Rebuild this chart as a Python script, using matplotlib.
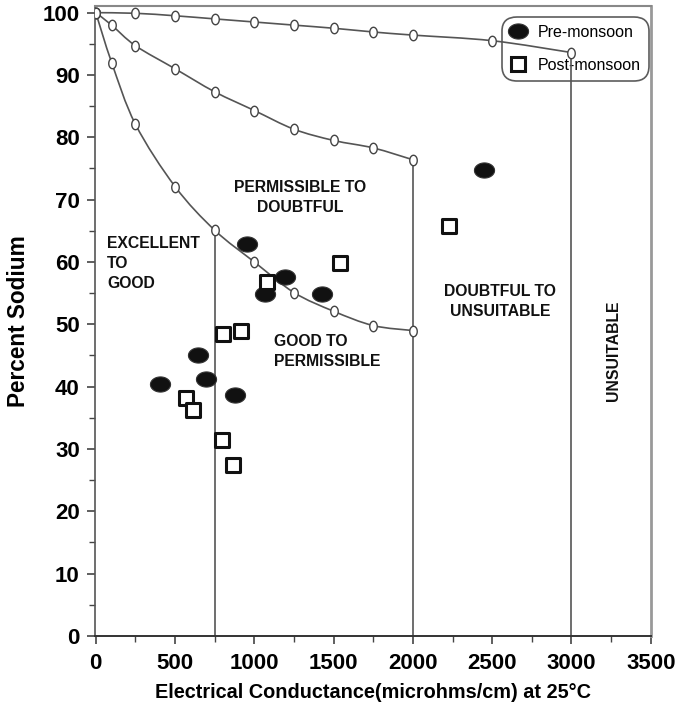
import numpy as np
import matplotlib
matplotlib.use("Agg")
import matplotlib.pyplot as plt
from matplotlib.path import Path
from matplotlib.patches import PathPatch
from matplotlib.lines import Line2D

plt.rcParams['font.family'] = ['Liberation Sans', 'DejaVu Sans']

# ---- Wilcox boundary curves ----
curve_top_x = [0, 250, 500, 750, 1000, 1250, 1500, 1750, 2000, 2500, 3000]
curve_top_y = [100, 99.9, 99.5, 99.0, 98.5, 98.0, 97.5, 96.9, 96.4, 95.5, 93.6]
curve_mid_x = [0, 100, 250, 500, 750, 1000, 1250, 1500, 1750, 2000]
curve_mid_y = [100, 98.0, 94.7, 91.0, 87.3, 84.3, 81.3, 79.5, 78.3, 76.4]
curve_bot_x = [0, 100, 250, 500, 750, 1000, 1250, 1500, 1750, 2000]
curve_bot_y = [100, 92.0, 82.1, 72.1, 65.1, 60.0, 55.1, 52.1, 49.8, 49.0]

# vertical class boundaries: (x, top y)
vlines_x = [750, 2000, 3000]
vlines_top = [65.1, 76.4, 93.6]

# ---- samples ----
pre_ec = [953, 1068, 1194, 1425, 644, 402, 696, 875, 2448]
pre_na = [62.9, 54.9, 57.6, 54.8, 45.1, 40.4, 41.3, 38.7, 74.8]
post_ec = [1079, 801, 917, 1540, 568, 616, 795, 864, 2227]
post_na = [56.8, 48.5, 49.0, 59.9, 38.2, 36.3, 31.4, 27.4, 65.8]

x_ticks = [0, 500, 1000, 1500, 2000, 2500, 3000, 3500]
y_ticks = [0, 10, 20, 30, 40, 50, 60, 70, 80, 90, 100]

fig = plt.figure(figsize=(6.8, 7.13), dpi=100)
ax = fig.add_axes([0.1397, 0.108, 0.8173, 0.8836])
ax.set_xlim(-5, 3500)
ax.set_ylim(0, 101.07)

# markers
t = np.linspace(0, 2 * np.pi, 60)
ell_wide = Path(np.column_stack([1.33 * np.cos(t), np.sin(t)]), closed=True)
ell_tall = Path(np.column_stack([0.72 * np.cos(t), np.sin(t)]), closed=True)

line_col = '#555555'


def smooth_path(xs, ys):
    """Catmull-Rom style cubic Bezier path through the given points (display space)."""
    pts = ax.transData.transform(np.column_stack([xs, ys]))
    n = len(pts)
    verts = [pts[0]]
    codes = [Path.MOVETO]
    for i in range(n - 1):
        p0 = pts[i - 1] if i > 0 else pts[i]
        p1 = pts[i]
        p2 = pts[i + 1]
        p3 = pts[i + 2] if i + 2 < n else pts[i + 1]
        c1 = p1 + (p2 - p0) / 6.0
        c2 = p2 - (p3 - p1) / 6.0
        verts += [c1, c2, p2]
        codes += [Path.CURVE4] * 3
    dverts = ax.transData.inverted().transform(np.array(verts))
    return Path(dverts, codes)


for cx, cy in [(curve_top_x, curve_top_y), (curve_mid_x, curve_mid_y), (curve_bot_x, curve_bot_y)]:
    ax.add_patch(PathPatch(smooth_path(cx, cy), facecolor='none', edgecolor=line_col,
                           lw=1.2, zorder=3))
    ax.plot(cx, cy, ls='none', marker=ell_tall, ms=7.5,
            mfc='white', mec='#444444', mew=1.0, zorder=3)

for vx, vt in zip(vlines_x, vlines_top):
    ax.plot([vx, vx], [0, vt], color=line_col, lw=1.2, zorder=2)

ax.scatter(pre_ec, pre_na, marker=ell_wide, s=14.5 ** 2, facecolor='#111111',
           edgecolor='#333333', linewidths=0.8, zorder=4)
ax.scatter(post_ec, post_na, marker='s', s=9.5 ** 2, facecolor='white',
           edgecolor='#111111', linewidths=2.2, zorder=5)

# annotations
kw = dict(fontsize=11.3, fontweight='bold', color='#111111', linespacing=1.4)
ax.text(72, 59.8, "EXCELLENT\nTO\nGOOD", ha='left', va='center', **kw)
ax.text(1290, 70.4, "PERMISSIBLE TO\nDOUBTFUL", ha='center', va='center', **kw)
ax.text(1125, 45.6, "GOOD TO\nPERMISSIBLE", ha='left', va='center', **kw)
ax.text(2550, 53.7, "DOUBTFUL TO\nUNSUITABLE", ha='center', va='center', **kw)
ax.text(3268, 45.8, "UNSUITABLE", ha='center', va='center', rotation=90,
        fontsize=11.3, fontweight='bold', color='#111111')

ax.set_xticks(x_ticks)
ax.set_yticks(y_ticks)
ax.set_xticks(np.arange(250, 3500, 500), minor=True)
ax.set_yticks(np.arange(5, 100, 10), minor=True)
ax.tick_params(axis='both', which='major', direction='out', length=6, width=1.2,
               labelsize=16, color='#444444')
ax.tick_params(axis='both', which='minor', direction='out', length=4, width=1.0, color='#444444')
ax.tick_params(axis='x', pad=6)
ax.tick_params(axis='y', pad=5)
for lab in ax.get_xticklabels() + ax.get_yticklabels():
    lab.set_fontweight('bold')

ax.spines['left'].set_color('#555555')
ax.spines['bottom'].set_color('#333333')
ax.spines['top'].set_color('#888888')
ax.spines['right'].set_color('#999999')
ax.spines['left'].set_linewidth(1.2)
ax.spines['bottom'].set_linewidth(1.4)
ax.spines['top'].set_linewidth(1.5)
ax.spines['right'].set_linewidth(2.0)

ax.set_xlabel("Electrical Conductance(microhms/cm) at 25°C", fontsize=14.3,
              fontweight='bold', labelpad=7)
ax.set_ylabel("Percent Sodium", fontsize=16.3, fontweight='bold', labelpad=9)

handles = [
    Line2D([], [], ls='none', marker=ell_wide, ms=14.5, mfc='#111111', mec='#333333', mew=0.8),
    Line2D([], [], ls='none', marker='s', ms=9.5, mfc='white', mec='#111111', mew=2.2),
]
leg = ax.legend(handles, ['Pre-monsoon', 'Post-monsoon'], loc='upper right',
                bbox_to_anchor=(0.996, 0.9825), fontsize=11.5, frameon=True,
                fancybox=True, handlelength=1.0, handletextpad=0.7,
                borderpad=0.5, labelspacing=1.1, borderaxespad=0)
fr = leg.get_frame()
fr.set_facecolor('none')
fr.set_edgecolor('#333333')
fr.set_linewidth(1.2)
fr.set_boxstyle('round', pad=0.0, rounding_size=0.9)
leg.set_zorder(1)

fig.savefig("out.png", dpi=100)
